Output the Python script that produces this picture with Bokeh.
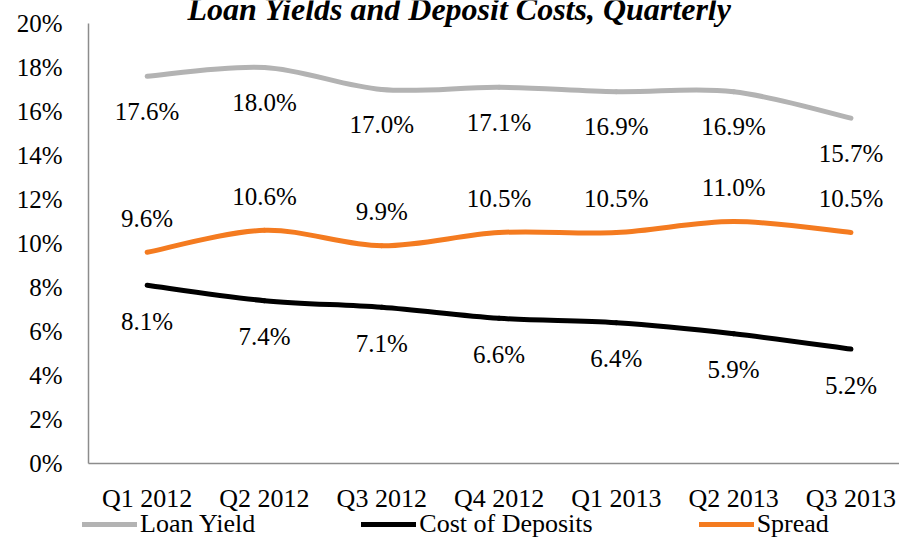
from bokeh.plotting import figure
from bokeh.models import (Range1d, FixedTicker, Legend, LegendItem, Label,
                          ColumnDataSource, LinearAxis)
from bokeh.core.properties import value
from bokeh.embed import file_html
from bokeh.resources import INLINE

# ---- data ----
quarters = ["Q1 2012", "Q2 2012", "Q3 2012", "Q4 2012", "Q1 2013", "Q2 2013", "Q3 2013"]
loan_yield = [17.6, 18.0, 17.0, 17.1, 16.9, 16.9, 15.7]
cost_of_deposits = [8.1, 7.4, 7.1, 6.6, 6.4, 5.9, 5.2]
spread = [9.6, 10.6, 9.9, 10.5, 10.5, 11.0, 10.5]
y_ticks = [0, 2, 4, 6, 8, 10, 12, 14, 16, 18, 20]
series_names = ["Loan Yield", "Cost of Deposits", "Spread"]
title_text = "Loan Yields and Deposit Costs, Quarterly"

FONT = "'Times New Roman', 'Liberation Serif', serif"
xs = [i + 0.5 for i in range(len(quarters))]

# pixel geometry of the plotting area
W, H = 899, 539
PX_X = 117.3          # px per category
PX_Y = 22.0           # px per percentage point
LEFT, TOP, BOTTOM = 88, 23, 76


def smooth(xv, yv):
    n = len(xv)
    d = dict(x0=[], y0=[], x1=[], y1=[], cx0=[], cy0=[], cx1=[], cy1=[])
    for i in range(n - 1):
        pm = i - 1 if i > 0 else i
        pp = i + 2 if i + 2 < n else i + 1
        d["x0"].append(xv[i]); d["y0"].append(yv[i])
        d["x1"].append(xv[i + 1]); d["y1"].append(yv[i + 1])
        d["cx0"].append(xv[i] + (xv[i + 1] - xv[pm]) / 6)
        d["cy0"].append(yv[i] + (yv[i + 1] - yv[pm]) / 6)
        d["cx1"].append(xv[i + 1] - (xv[pp] - xv[i]) / 6)
        d["cy1"].append(yv[i + 1] - (yv[pp] - yv[i]) / 6)
    return ColumnDataSource(d)


x_end = (W - LEFT) / PX_X
p = figure(width=W, height=H, output_backend="svg", toolbar_location=None,
           x_range=Range1d(-LEFT / PX_X, x_end),
           y_range=Range1d(-BOTTOM / PX_Y, 20 + TOP / PX_Y),
           x_axis_location=None, y_axis_location=None, min_border=0)
p.outline_line_color = None
for g in p.grid:
    g.visible = False
p.background_fill_color = "white"
p.border_fill_color = "white"

xaxis = LinearAxis(fixed_location=0, bounds=(0, x_end),
                   ticker=FixedTicker(ticks=xs),
                   major_label_overrides={x: q for x, q in zip(xs, quarters)})
yaxis = LinearAxis(fixed_location=0, bounds=(0, 20),
                   ticker=FixedTicker(ticks=y_ticks),
                   major_label_overrides={t: f"{t}%" for t in y_ticks})
for ax in (xaxis, yaxis):
    ax.axis_line_color = "#8c8c8c"
    ax.axis_line_width = 1.5
    ax.major_tick_line_color = None
    ax.minor_tick_line_color = None
    ax.major_tick_out = 0
    ax.major_tick_in = 0
    ax.minor_tick_out = 0
    ax.axis_label_standoff = 0
    ax.major_label_text_font = FONT
    ax.major_label_text_color = "black"
yaxis.major_label_text_font_size = "25px"
yaxis.major_label_standoff = 26
xaxis.major_label_text_font_size = "26px"
xaxis.major_label_standoff = 20
p.add_layout(xaxis, "below")
p.add_layout(yaxis, "left")

colors = ["#b3b3b3", "#000000", "#f47b20"]
datas = [loan_yield, cost_of_deposits, spread]
offsets = [35, 36, -34]

items = []
for name, vals, col, off in zip(series_names, datas, colors, offsets):
    src = smooth(xs, vals)
    r = p.bezier(x0="x0", y0="y0", x1="x1", y1="y1", cx0="cx0", cy0="cy0",
                 cx1="cx1", cy1="cy1", source=src, line_color=col, line_width=5,
                 line_cap="round")
    items.append(LegendItem(label=name, renderers=[r]))
    lsrc = ColumnDataSource(dict(x=xs, y=vals, t=[f"{v:.1f}%" for v in vals]))
    p.text(x="x", y="y", text="t", source=lsrc, text_font=value(FONT),
           text_font_size="25px", text_align="center", text_baseline="middle",
           y_offset=off, text_color="black")

legend = Legend(items=items, orientation="horizontal", location=(82, 0),
                glyph_width=55, glyph_height=28, label_height=28, label_standoff=3,
                spacing=106, padding=0, margin=0, border_line_color=None,
                background_fill_alpha=0, label_text_font=FONT,
                label_text_font_size="26px", label_text_color="black")
p.add_layout(legend, "center")

title = Label(x=3.163, y=20 + 15 / PX_Y, text=title_text, text_font=FONT,
              text_font_size="32px", text_font_style="bold italic",
              text_align="center", text_baseline="alphabetic", text_color="black")
p.add_layout(title)

open("out.html", "w").write(file_html(p, INLINE))
